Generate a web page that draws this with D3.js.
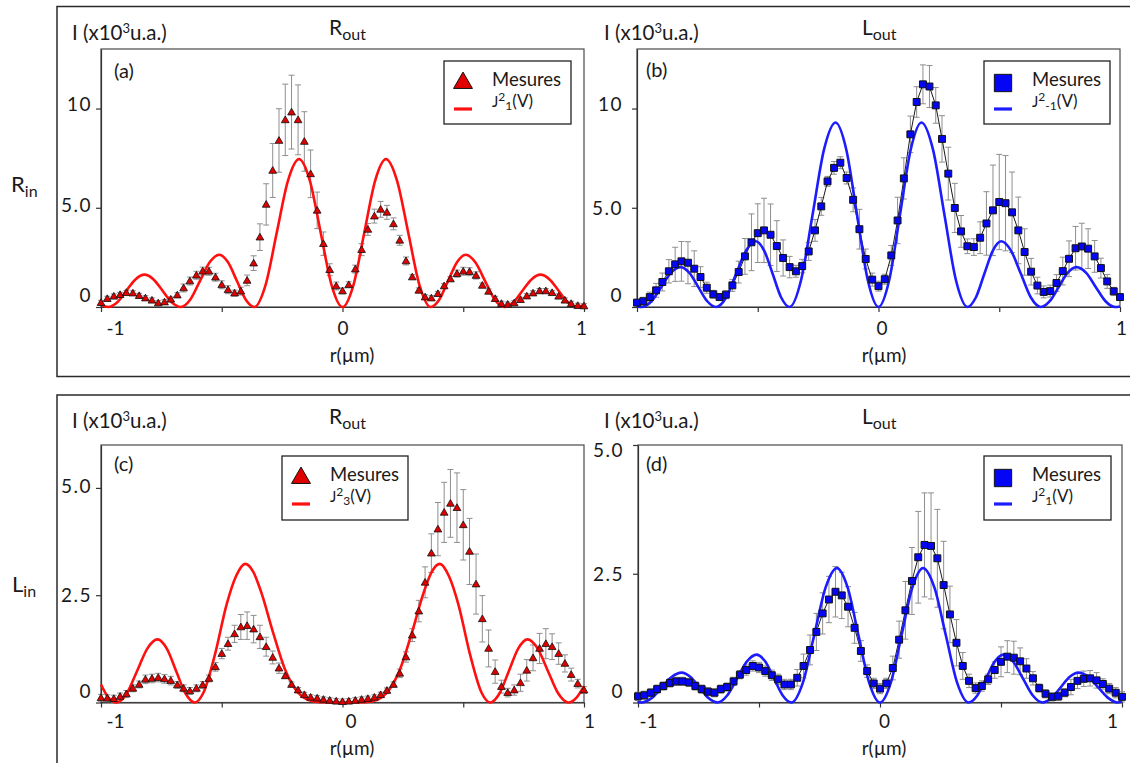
<!DOCTYPE html>
<html><head><meta charset="utf-8">
<script src="https://cdn.jsdelivr.net/npm/d3@7"></script>
<style>
body{margin:0;background:#fff}
svg{display:block}
text{font-family:Lato,'Open Sans',sans-serif;fill:#1a1a1a}
</style>
</head><body>
<svg id="c" width="1130" height="763"></svg>
<script>
// ---------- DATA ----------
const rGrid = [-1.000,-0.974,-0.947,-0.921,-0.895,-0.868,-0.842,-0.816,-0.789,-0.763,
 -0.737,-0.711,-0.684,-0.658,-0.632,-0.605,-0.579,-0.553,-0.526,-0.500,
 -0.474,-0.447,-0.421,-0.395,-0.368,-0.342,-0.316,-0.289,-0.263,-0.237,
 -0.211,-0.184,-0.158,-0.132,-0.105,-0.079,-0.053,-0.026,0.000,0.026,
 0.053,0.079,0.105,0.132,0.158,0.184,0.211,0.237,0.263,0.289,
 0.316,0.342,0.368,0.395,0.421,0.447,0.474,0.500,0.526,0.553,
 0.579,0.605,0.632,0.658,0.684,0.711,0.737,0.763,0.789,0.816,
 0.842,0.868,0.895,0.921,0.947,0.974,1.000];

const xTicks = [-1,-0.5,0,0.5,1];
const xTickLabels = ['-1','','0','','1'];
const yTicksTop = [0,5,10];
const yTickLabelsTop = ['0','5.0','10'];
const yTicksBottom = [0,2.5,5];
const yTickLabelsBottom = ['0','2.5','5.0'];

const measA = [0.22,0.42,0.54,0.62,0.72,0.70,0.57,0.45,0.34,0.20,
 0.25,0.39,0.60,0.96,1.31,1.60,1.81,1.80,1.50,1.12,
 0.87,0.70,0.80,1.34,2.21,3.52,5.17,6.88,8.39,9.43,
 9.82,9.43,8.34,6.71,4.87,3.19,1.88,1.06,0.81,1.12,
 1.91,2.89,3.91,4.58,4.92,4.77,4.19,3.36,2.32,1.51,
 0.84,0.50,0.45,0.67,1.06,1.41,1.68,1.80,1.78,1.59,
 1.09,0.79,0.42,0.17,0.13,0.20,0.37,0.55,0.70,0.81,
 0.81,0.72,0.54,0.34,0.17,0.07,0.05];
const errA = [0.12,0.12,0.12,0.12,0.12,0.12,0.12,0.12,0.12,0.12,
 0.12,0.12,0.12,0.20,0.20,0.20,0.20,0.20,0.20,0.20,
 0.20,0.15,0.20,0.27,0.37,0.67,1.04,1.36,1.60,1.80,
 1.86,1.76,1.50,1.20,0.92,0.59,0.30,0.20,0.15,0.15,
 0.20,0.30,0.30,0.35,0.40,0.35,0.30,0.25,0.20,0.12,
 0.12,0.12,0.12,0.12,0.12,0.12,0.18,0.20,0.20,0.18,
 0.12,0.12,0.12,0.12,0.12,0.12,0.12,0.12,0.12,0.12,
 0.12,0.12,0.12,0.12,0.12,0.12,0.12];
const curveA = [[-1,0.12],[-0.97,0],[-0.9325,0.24],[-0.895,0.82],[-0.8575,1.39],[-0.82,1.63],[-0.7825,1.39],[-0.745,0.82],[-0.7075,0.24],[-0.67,0],
 [-0.63,0.38],[-0.59,1.32],[-0.55,2.25],[-0.51,2.63],[-0.474,2.25],[-0.4375,1.32],[-0.401,0.38],[-0.365,0],
 [-0.319,1.09],[-0.2725,3.73],[-0.226,6.36],[-0.18,7.45],[-0.135,6.36],[-0.09,3.73],[-0.045,1.09],[0,0],
 [0.045,1.09],[0.09,3.73],[0.135,6.36],[0.18,7.45],[0.226,6.36],[0.2725,3.73],[0.319,1.09],[0.365,0],
 [0.401,0.38],[0.4375,1.32],[0.474,2.25],[0.51,2.63],[0.55,2.25],[0.59,1.32],[0.63,0.38],[0.67,0],
 [0.7075,0.24],[0.745,0.82],[0.7825,1.39],[0.82,1.63],[0.8575,1.39],[0.895,0.82],[0.9325,0.24],[0.97,0],[1,0.12]];

const measB = [0.22,0.29,0.50,0.84,1.26,1.80,2.15,2.30,2.23,1.93,
 1.51,0.97,0.64,0.50,0.62,1.09,1.76,2.55,3.26,3.72,
 3.86,3.64,3.07,2.47,2.01,1.80,2.06,2.80,3.86,5.07,
 6.33,7.01,7.27,6.50,5.40,3.92,2.42,1.38,1.05,1.40,
 2.60,4.36,6.48,8.70,10.33,11.22,11.11,10.16,8.47,6.72,
 4.99,3.81,3.06,3.02,3.49,4.21,4.87,5.29,5.23,4.77,
 3.86,2.77,1.78,1.08,0.76,0.80,1.21,1.81,2.43,2.96,
 3.05,2.94,2.55,1.96,1.29,0.79,0.50];
const errB = [0.15,0.20,0.25,0.35,0.45,0.59,0.86,1.00,1.06,0.90,
 0.52,0.28,0.20,0.17,0.20,0.30,0.55,0.90,1.43,1.48,
 1.62,1.55,1.28,0.91,0.54,0.30,0.34,0.45,0.55,0.45,
 0.25,0.32,0.30,0.30,0.60,1.00,0.50,0.33,0.25,0.25,
 0.50,1.17,1.04,0.92,0.77,0.98,1.06,0.90,1.17,1.33,
 1.24,0.80,0.37,0.42,0.80,1.60,2.28,2.40,2.40,2.03,
 1.68,1.17,0.67,0.42,0.30,0.30,0.42,0.70,0.90,1.10,
 1.17,1.00,0.80,0.50,0.35,0.20,0.15];
const curveB = [[-1,0.03],[-0.98,0],[-0.94,0.29],[-0.90,1.0],[-0.86,1.72],[-0.82,2.01],[-0.783,1.72],[-0.746,1.0],[-0.709,0.29],[-0.672,0],
 [-0.631,0.48],[-0.59,1.66],[-0.549,2.83],[-0.508,3.31],[-0.473,2.83],[-0.438,1.66],[-0.403,0.48],[-0.368,0],
 [-0.3205,1.36],[-0.273,4.65],[-0.2255,7.94],[-0.178,9.3],[-0.1335,7.94],[-0.089,4.65],[-0.0445,1.36],[0,0],
 [0.0445,1.36],[0.089,4.65],[0.1335,7.94],[0.178,9.3],[0.2255,7.94],[0.273,4.65],[0.3205,1.36],[0.368,0],
 [0.403,0.48],[0.438,1.66],[0.473,2.83],[0.508,3.31],[0.549,2.83],[0.59,1.66],[0.631,0.48],[0.672,0],
 [0.709,0.29],[0.746,1.0],[0.783,1.72],[0.82,2.01],[0.86,1.72],[0.90,1.0],[0.94,0.29],[0.98,0],[1,0.03]];

const measC = [0.11,0.10,0.09,0.14,0.20,0.33,0.42,0.54,0.56,0.58,
 0.55,0.51,0.41,0.33,0.27,0.33,0.41,0.56,0.83,1.14,
 1.37,1.60,1.76,1.79,1.71,1.53,1.30,1.05,0.80,0.62,
 0.42,0.29,0.18,0.12,0.10,0.07,0.05,0.03,0.02,0.03,
 0.05,0.07,0.09,0.12,0.18,0.28,0.42,0.68,1.06,1.57,
 2.13,2.80,3.48,4.04,4.43,4.64,4.54,4.14,3.52,2.76,
 1.95,1.26,0.72,0.37,0.23,0.29,0.46,0.75,1.04,1.26,
 1.37,1.30,1.14,0.91,0.65,0.44,0.29];
const errC = [0.08,0.08,0.08,0.08,0.08,0.08,0.08,0.10,0.10,0.10,
 0.10,0.10,0.08,0.08,0.08,0.08,0.08,0.08,0.10,0.12,
 0.15,0.20,0.29,0.32,0.32,0.27,0.22,0.15,0.12,0.06,
 0.06,0.06,0.06,0.06,0.06,0.06,0.06,0.06,0.06,0.06,
 0.06,0.06,0.06,0.06,0.06,0.06,0.06,0.10,0.12,0.15,
 0.25,0.36,0.45,0.62,0.70,0.79,0.81,0.82,0.77,0.70,
 0.54,0.43,0.27,0.15,0.10,0.12,0.20,0.25,0.30,0.35,
 0.35,0.30,0.25,0.20,0.15,0.10,0.08];
const curveC = [[-1,0.42],[-0.97,0.12],[-0.935,0],[-0.8928,0.215],[-0.8505,0.735],[-0.8083,1.255],[-0.766,1.47],[-0.7275,1.255],[-0.689,0.735],[-0.6505,0.215],[-0.612,0],
 [-0.576,0.226],[-0.528,1.12],[-0.48,2.28],[-0.441,2.94],[-0.403,3.23],[-0.37,3.05],[-0.336,2.56],[-0.288,1.64],[-0.24,0.80],[-0.192,0.285],[-0.144,0.064],[-0.096,0.007],[0,0],
 [0.096,0.007],[0.144,0.064],[0.192,0.285],[0.24,0.80],[0.288,1.64],[0.336,2.56],[0.37,3.05],[0.403,3.23],[0.441,2.94],[0.48,2.28],[0.528,1.12],[0.576,0.226],[0.612,0],
 [0.6505,0.215],[0.689,0.735],[0.7275,1.255],[0.766,1.47],[0.8083,1.255],[0.8505,0.735],[0.8928,0.215],[0.935,0],[0.97,0.12],[1,0.38]];

const measD = [0.12,0.14,0.19,0.26,0.32,0.38,0.41,0.41,0.39,0.32,
 0.26,0.21,0.19,0.26,0.30,0.41,0.54,0.63,0.71,0.68,
 0.61,0.53,0.45,0.35,0.35,0.48,0.71,1.02,1.37,1.73,
 2.00,2.15,2.08,1.86,1.45,1.00,0.61,0.37,0.27,0.37,
 0.67,1.22,1.79,2.36,2.82,3.06,3.04,2.80,2.28,1.71,
 1.16,0.71,0.42,0.28,0.32,0.45,0.63,0.79,0.89,0.87,
 0.80,0.66,0.47,0.28,0.17,0.11,0.12,0.19,0.30,0.42,
 0.46,0.47,0.43,0.36,0.27,0.19,0.11];
const errD = [0.08,0.08,0.08,0.08,0.08,0.08,0.08,0.08,0.08,0.08,
 0.08,0.08,0.08,0.08,0.08,0.08,0.08,0.10,0.10,0.10,
 0.10,0.10,0.10,0.10,0.10,0.16,0.23,0.29,0.36,0.40,
 0.45,0.49,0.45,0.39,0.30,0.20,0.12,0.10,0.10,0.10,
 0.23,0.36,0.56,0.65,0.89,1.01,1.03,0.95,0.85,0.55,
 0.45,0.26,0.13,0.10,0.10,0.10,0.16,0.29,0.31,0.32,
 0.26,0.19,0.13,0.08,0.08,0.08,0.08,0.08,0.15,0.15,
 0.15,0.15,0.15,0.10,0.10,0.10,0.10];
const curveD = [[-1,0.01],[-0.985,0],[-0.944,0.085],[-0.9025,0.29],[-0.861,0.495],[-0.82,0.58],[-0.783,0.495],[-0.746,0.29],[-0.709,0.085],[-0.672,0],
 [-0.6315,0.136],[-0.591,0.465],[-0.5505,0.794],[-0.51,0.93],[-0.474,0.794],[-0.438,0.465],[-0.402,0.136],[-0.366,0],
 [-0.319,0.381],[-0.272,1.305],[-0.225,2.229],[-0.178,2.61],[-0.1335,2.229],[-0.089,1.305],[-0.0445,0.381],[0,0],
 [0.0445,0.381],[0.089,1.305],[0.1335,2.229],[0.178,2.61],[0.225,2.229],[0.272,1.305],[0.319,0.381],[0.366,0],
 [0.402,0.136],[0.438,0.465],[0.474,0.794],[0.51,0.93],[0.5505,0.794],[0.591,0.465],[0.6315,0.136],[0.672,0],
 [0.709,0.085],[0.746,0.29],[0.783,0.495],[0.82,0.58],[0.861,0.495],[0.9025,0.29],[0.944,0.085],[0.98,0],[1,0.02]];

const panelLetters = ['(a)','(b)','(c)','(d)'];
const panelTitles = [['R','out'],['L','out'],['R','out'],['L','out']];
const rowLabels = [['R','in'],['L','in']];
const legendMeas = 'Mesures';
const legendSub = ['1','-1','3','1'];
const legendSup = ['2','2','2','2'];

// ---------- LAYOUT ----------
const RED='#ff1010', REDFILL='#e00000', BLUE='#1c1cff', BLUEFILL='#0505f5';
const panels = [
 {x0:101,x1:584,y0:49,y1:307,ymax:13,yT:yTicksTop,yL:yTickLabelsTop,yPad:4,xPad:10,meas:measA,err:errA,curve:curveA,color:RED,fill:REDFILL,sym:'tri',joined:false,
  titleX:72,titleY:39.5,subX:329,subY:35,xlabX:352,xlabY:362,letX:114,letY:78,leg:[444,61,127,63],xdx:[14,0,-3],yShift:[-12,-3,-5]},
 {x0:637,x1:1120,y0:49,y1:307,ymax:13,yT:yTicksTop,yL:yTickLabelsTop,yPad:9,xPad:10,meas:measB,err:errB,curve:curveB,color:BLUE,fill:BLUEFILL,sym:'sq',joined:true,
  titleX:604,titleY:39.5,subX:862,subY:35,xlabX:884,xlabY:362,letX:646,letY:77,leg:[984,61,126,63],xdx:[10,3,1],yShift:[-12,0,-5]},
 {x0:101,x1:584,y0:445,y1:702.5,ymax:6,yT:yTicksBottom,yL:yTickLabelsBottom,yPad:4,xPad:7,meas:measC,err:errC,curve:curveC,color:RED,fill:REDFILL,sym:'tri',joined:false,
  titleX:72,titleY:428,subX:329,subY:424,xlabX:352,xlabY:755,letX:114,letY:471,leg:[282,456,126,64],xdx:[14,8,5],yShift:[-12,0,-2]},
 {x0:638,x1:1122,y0:445,y1:702.5,ymax:5,yT:yTicksBottom,yL:yTickLabelsBottom,yPad:9,xPad:7,meas:measD,err:errD,curve:curveD,color:BLUE,fill:BLUEFILL,sym:'sq',joined:true,
  titleX:604,titleY:428,subX:862,subY:424,xlabX:884,xlabY:755,letX:646,letY:471,leg:[984,456,127,64],xdx:[10,4,-10],yShift:[-12,0,5]}
];

const svg = d3.select('#c');
svg.append('rect').attr('width',1130).attr('height',763).attr('fill','#fff');
// outer frames
svg.append('rect').attr('x',57).attr('y',6.5).attr('width',1100).attr('height',370)
  .attr('fill','none').attr('stroke','#2a2a2a').attr('stroke-width',1.5);
svg.append('rect').attr('x',57).attr('y',395).attr('width',1100).attr('height',400)
  .attr('fill','none').attr('stroke','#2a2a2a').attr('stroke-width',1.5);

// row labels
[[11,192],[12,592]].forEach((pos,k)=>{
  const t = svg.append('text').attr('x',pos[0]).attr('y',pos[1]).attr('font-size',22);
  t.append('tspan').text(rowLabels[k][0]);
  t.append('tspan').attr('font-size',16).attr('dy',5).text(rowLabels[k][1]);
});

function symbolPath(kind, size){
  return d3.symbol().type(kind==='tri'?d3.symbolTriangle:d3.symbolSquare).size(size)();
}

panels.forEach((p,k)=>{
  const g = svg.append('g');
  const x = d3.scaleLinear().domain([-1,1]).range([p.x0,p.x1]);
  const y = d3.scaleLinear().domain([0,p.ymax]).range([p.y1,p.y0]);

  // plot frame
  g.append('rect').attr('x',p.x0).attr('y',p.y0).attr('width',p.x1-p.x0).attr('height',p.y1-p.y0)
    .attr('fill','none').attr('stroke','#4a4a4a').attr('stroke-width',1.2);

  // y axis
  const yg = g.append('g').attr('transform',`translate(${p.x0},0)`)
    .call(d3.axisLeft(y).tickValues(p.yT).tickFormat((d,i)=>p.yL[i]).tickSize(5).tickSizeOuter(0).tickPadding(p.yPad));
  yg.selectAll('path.domain').attr('stroke','#333').attr('stroke-width',1.2);
  yg.selectAll('line').attr('stroke','#333').attr('stroke-width',1.2);
  yg.selectAll('text').attr('font-size',19).attr('font-family','Lato,sans-serif').attr('fill','#222')
    .attr('letter-spacing',1.5).attr('dy',(d,i)=>(p.yShift[i]+6.5)+'px');

  // x axis
  const xg = g.append('g').attr('transform',`translate(0,${p.y1})`)
    .call(d3.axisBottom(x).tickValues(xTicks).tickFormat((d,i)=>xTickLabels[i]).tickSize(5).tickSizeOuter(0).tickPadding(p.xPad));
  xg.selectAll('path.domain').attr('stroke','#333').attr('stroke-width',1.2);
  xg.selectAll('line').attr('stroke','#333').attr('stroke-width',1.2);
  const lblIdx = {'-1':0,'0':1,'1':2};
  xg.selectAll('text').attr('font-size',19).attr('font-family','Lato,sans-serif').attr('fill','#222')
    .attr('dx',(d)=>{const key=String(d); return (key in lblIdx)? p.xdx[lblIdx[key]] : 0;});

  // error bars
  const pts = rGrid.map((r,i)=>({r:r, v:p.meas[i], e:p.err[i]}));
  const eb = g.append('g').attr('stroke','#8e8e8e').attr('stroke-width',1).attr('fill','none');
  eb.selectAll('path').data(pts).enter().append('path')
    .attr('d',d=>{
      const cx=x(d.r), yt=y(d.v+d.e), yb=y(d.v-d.e), w=3;
      return `M${cx},${yt}V${yb}M${cx-w},${yt}H${cx+w}M${cx-w},${yb}H${cx+w}`;
    });

  // joining line for measures
  if(p.joined){
    g.append('path').datum(pts).attr('fill','none').attr('stroke','#1a1a1a').attr('stroke-width',1)
      .attr('d',d3.line().x(d=>x(d.r)).y(d=>y(d.v)));
  }
  // theory curve
  g.append('path').datum(p.curve).attr('fill','none').attr('stroke',p.color).attr('stroke-width',2.6)
    .attr('d',d3.line().x(d=>x(d[0])).y(d=>y(d[1])).curve(d3.curveMonotoneX));

  // markers
  const msize = p.sym==='tri'?26:48;
  g.append('g').selectAll('path').data(pts).enter().append('path')
    .attr('d',symbolPath(p.sym,msize))
    .attr('transform',d=>`translate(${x(d.r)},${y(d.v)+(p.sym==='tri'?0.6:0)})`)
    .attr('fill',p.fill).attr('stroke','#111').attr('stroke-width',p.sym==='tri'?0.8:1);

  // titles
  const t1 = g.append('text').attr('x',p.titleX).attr('y',p.titleY).attr('font-size',20.5);
  t1.append('tspan').text('I (x10');
  t1.append('tspan').attr('font-size',13).attr('dy',-7).text('3');
  t1.append('tspan').attr('dy',7).text('u.a.)');
  const t2 = g.append('text').attr('x',p.subX).attr('y',p.subY).attr('font-size',21);
  t2.append('tspan').text(panelTitles[k][0]);
  t2.append('tspan').attr('font-size',16).attr('dy',5).text(panelTitles[k][1]);

  g.append('text').attr('x',p.xlabX).attr('y',p.xlabY).attr('font-size',19).attr('text-anchor','middle').text('r(µm)');
  g.append('text').attr('x',p.letX).attr('y',p.letY).attr('font-size',20).text(panelLetters[k]);

  // legend
  const [lx,ly,lw,lh] = p.leg;
  g.append('rect').attr('x',lx).attr('y',ly).attr('width',lw).attr('height',lh)
    .attr('fill','#fff').attr('stroke','#222').attr('stroke-width',1.3);
  g.append('path').attr('d',symbolPath(p.sym,p.sym==='tri'?155:300))
    .attr('transform',`translate(${lx+19},${ly+22})`)
    .attr('fill',p.fill).attr('stroke','#111').attr('stroke-width',1);
  g.append('line').attr('x1',lx+10).attr('x2',lx+28).attr('y1',ly+48).attr('y2',ly+48)
    .attr('stroke',p.color).attr('stroke-width',3.2);
  g.append('text').attr('x',lx+48).attr('y',ly+25).attr('font-size',18.5).text(legendMeas);
  const jt = g.append('text').attr('x',lx+48).attr('y',ly+46).attr('font-size',17);
  jt.append('tspan').attr('font-size',15).text('J');
  jt.append('tspan').attr('font-size',12).attr('dy',-6).text(legendSup[k]);
  jt.append('tspan').attr('font-size',12).attr('dy',9).text(legendSub[k]);
  jt.append('tspan').attr('dy',-3).text('(V)');
});
</script>
</body></html>
